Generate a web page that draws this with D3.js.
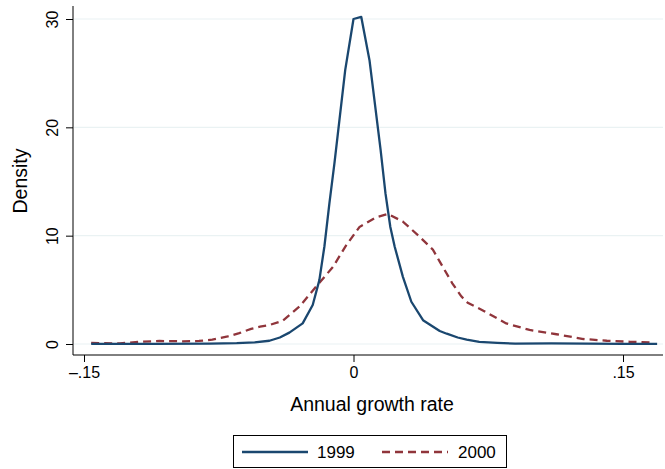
<!DOCTYPE html>
<html>
<head>
<meta charset="utf-8">
<script src="https://cdn.jsdelivr.net/npm/d3@7"></script>
<style>
  body { margin: 0; background: #fff; }
  text { font-family: "Liberation Sans", Arial, Helvetica, sans-serif; fill: #000; }
</style>
</head>
<body>
<svg id="chart" width="665" height="469"></svg>
<script>
// ---- data ----
const x1999 = [-0.146, -0.11, -0.08, -0.065, -0.055, -0.0468, -0.041, -0.0357, -0.0283, -0.0227, -0.019, -0.0162, -0.0134, -0.0106, -0.0046, 0, 0.0043, 0.0089, 0.0151, 0.0178, 0.0205, 0.0229, 0.0275, 0.0322, 0.0387, 0.048, 0.0519, 0.058, 0.063, 0.07, 0.08, 0.09, 0.11, 0.13, 0.15, 0.169];
const y1999 = [0.02, 0.02, 0.04, 0.08, 0.15, 0.3, 0.6, 1.05, 1.9, 3.6, 5.9, 9.0, 13.0, 16.7, 25.3, 30.0, 30.2, 26.2, 17.9, 13.9, 10.8, 9.0, 6.2, 3.9, 2.2, 1.2, 0.95, 0.6, 0.4, 0.2, 0.1, 0.03, 0.05, 0.03, 0.02, 0.02];
const x2000 = [-0.146, -0.13, -0.12, -0.108, -0.095, -0.086, -0.0786, -0.07, -0.0636, -0.057, -0.052, -0.0468, -0.0394, -0.0301, -0.0208, -0.0115, -0.0041, 0.0033, 0.0127, 0.0192, 0.0275, 0.0368, 0.0442, 0.048, 0.055, 0.060, 0.0636, 0.072, 0.085, 0.098, 0.113, 0.128, 0.141, 0.154, 0.165];
const y2000 = [0.1, 0.05, 0.2, 0.28, 0.25, 0.28, 0.4, 0.7, 1.0, 1.4, 1.6, 1.75, 2.15, 3.45, 5.3, 7.1, 9.1, 10.8, 11.7, 12.0, 11.3, 9.9, 8.7, 7.6, 5.6, 4.4, 3.8, 3.1, 1.9, 1.3, 0.9, 0.46, 0.3, 0.2, 0.15];
const xTicks = [-0.15, 0, 0.15];
const xTickLabels = ["\u2013.15", "0", ".15"];
const yTicks = [0, 10, 20, 30];
const seriesNames = ["1999", "2000"];
const seriesColors = ["#1a476f", "#90353b"];

// ---- scales ----
const svg = d3.select("#chart");
const x = d3.scaleLinear().domain([-0.15, 0.15]).range([84, 623]);
const y = d3.scaleLinear().domain([0, 30]).range([344, 19]);

const axisX0 = 73, axisY0 = 355;

// gridlines
svg.append("g").selectAll("line").data(yTicks).join("line")
  .attr("x1", axisX0 + 1).attr("x2", 663)
  .attr("y1", d => y(d)).attr("y2", d => y(d))
  .attr("stroke", "#eaf2f3").attr("stroke-width", 1.2);

// y axis
const gy = svg.append("g").attr("transform", `translate(${axisX0},0)`)
  .call(d3.axisLeft(y).tickValues(yTicks).tickSize(7).tickPadding(0).tickFormat(d3.format("d")));
gy.select(".domain").remove();
gy.selectAll(".tick line").attr("stroke", "#000");
gy.selectAll(".tick text")
  .attr("x", null).attr("dy", null)
  .attr("text-anchor", "middle")
  .attr("transform", "translate(-15,0) rotate(-90)")
  .style("font-size", "16px")
  .style("font-family", "'Liberation Sans', Arial, sans-serif");
svg.append("line").attr("x1", axisX0).attr("x2", axisX0).attr("y1", 6).attr("y2", axisY0)
  .attr("stroke", "#000").attr("stroke-width", 1);

// x axis
const gx = svg.append("g").attr("transform", `translate(0,${axisY0})`)
  .call(d3.axisBottom(x).tickValues(xTicks).tickSize(7).tickPadding(5)
    .tickFormat((d, i) => xTickLabels[i]));
gx.select(".domain").remove();
gx.selectAll(".tick line").attr("stroke", "#000");
gx.selectAll(".tick text")
  .attr("dy", null).attr("y", 23)
  .style("font-size", "16px")
  .style("font-family", "'Liberation Sans', Arial, sans-serif");
svg.append("line").attr("x1", axisX0).attr("x2", 663).attr("y1", axisY0).attr("y2", axisY0)
  .attr("stroke", "#000").attr("stroke-width", 1);

// axis titles
svg.append("text").attr("x", 372).attr("y", 411).attr("text-anchor", "middle")
  .style("font-size", "19.5px").text("Annual growth rate");
svg.append("text").attr("transform", "translate(27,181) rotate(-90)").attr("text-anchor", "middle")
  .style("font-size", "19.5px").text("Density");

// lines
const line = d3.line().x(d => x(d[0])).y(d => y(d[1]));
const d1999 = x1999.map((v, i) => [v, y1999[i]]);
const d2000 = x2000.map((v, i) => [v, y2000[i]]);

svg.append("path").datum(d2000).attr("d", line)
  .attr("fill", "none").attr("stroke", seriesColors[1]).attr("stroke-width", 2.3)
  .attr("stroke-dasharray", "8,5");
svg.append("path").datum(d1999).attr("d", line)
  .attr("fill", "none").attr("stroke", seriesColors[0]).attr("stroke-width", 2.3)
  .attr("stroke-linejoin", "round");

// legend
const lg = svg.append("g");
lg.append("rect").attr("x", 233.5).attr("y", 435.5).attr("width", 273).attr("height", 32)
  .attr("fill", "#fff").attr("stroke", "#000").attr("stroke-width", 1);
lg.append("line").attr("x1", 242).attr("x2", 308).attr("y1", 452).attr("y2", 452)
  .attr("stroke", seriesColors[0]).attr("stroke-width", 2.3);
lg.append("text").attr("x", 317).attr("y", 457.5).style("font-size", "17px").text(seriesNames[0]);
lg.append("line").attr("x1", 382).attr("x2", 448).attr("y1", 452).attr("y2", 452)
  .attr("stroke", seriesColors[1]).attr("stroke-width", 2.3).attr("stroke-dasharray", "8,5");
lg.append("text").attr("x", 458).attr("y", 457.5).style("font-size", "17px").text(seriesNames[1]);
</script>
</body>
</html>
